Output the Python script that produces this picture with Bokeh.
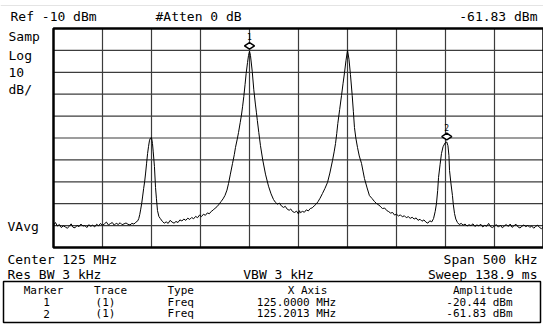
import math
from bokeh.plotting import figure
from bokeh.models import Range1d, Label, ColumnDataSource
from bokeh.core.properties import value
from bokeh.transform import dodge
from bokeh.embed import file_html
from bokeh.resources import INLINE

# ---------------- data ----------------
center_mhz = 125.0
x_start_mhz, x_end_mhz = 124.80, 125.30
ref_dbm = -10
db_per_div = 10

trace_khz = (
    [-200, -198, -196, -194, -192, -190, -188, -186, -184, -182, -180, -178, -176, -174, -172, -170, -168, -166, -164, -162, -160, -158]
    + [-156, -154, -152, -150, -148, -146, -144, -142, -140, -138, -136, -134, -132, -130, -128, -126, -124, -122, -120, -118, -116, -114]
    + [-113, -112, -111, -110, -109, -108, -107, -106, -105, -104, -103, -102, -101, -100, -99, -98.3, -97, -95.9, -95, -93.9, -92.5, -91]
    + [-89, -87, -85, -83, -81, -79, -77, -75, -73, -71, -69, -67, -65, -63, -61, -59, -57, -55, -53, -51, -49, -47, -45, -43, -41, -39, -37, -35, -33, -31, -29, -27, -25, -23]
    + [-21.4, -19.5, -17.3, -15.5, -14.3, -12.5, -11.2, -9.5, -8.2, -7, -5.8, -4.5, -3.4, -2, -1, 0]
    + [1, 2.8, 4.4, 6, 7.1, 8, 9.5, 11.2, 13.5, 16.3, 19.4, 22, 24.5, 26.5, 28.5, 30.5]
    + [32.5, 34.7, 36.5, 38.5, 40.5, 42, 44, 46, 48, 50, 51, 52, 54, 56, 58, 60, 62, 64, 66, 68, 70, 72, 74.5, 77, 79.6, 82]
    + [84.7, 86.5, 87.8, 89, 90.1, 92, 93.9, 95.5, 97, 98.5, 100, 101.5, 103, 104.8, 106, 107.1, 108.5, 110.2, 112, 114.3, 116, 117.3, 120, 122.4]
    + [125, 127.5, 129.6, 132, 134, 135.7, 138, 140, 142, 144, 146, 148, 150, 152, 154, 156, 158, 160, 162, 164, 166, 168, 170, 172, 174, 176, 178]
    + [180, 182, 184, 186, 187.8, 189.5, 190.8, 192, 192.9, 194.5, 195.9, 197.5, 199.5, 201.3, 202.5, 203.5, 204.1, 205.5, 207.1, 208, 209.2, 210.5, 212.2]
    + [214, 216, 218, 220, 222, 224, 226, 228, 230, 232, 234, 236, 238, 240, 242, 244, 246, 248, 250, 252, 254, 256]
    + [258, 260, 262, 264, 266, 268, 270, 272, 274, 276, 278, 280, 282, 284, 286, 288, 290, 292, 294, 296, 298, 300]
)
trace_dbm = (
    [-99.8, -98.6, -100.2, -99.5, -100.9, -100.1, -100.6, -101.2, -100.4, -99.2, -100.8, -101.0, -99.9, -100.5, -99.3, -100.2, -100.0, -100.9, -99.6, -100.3, -99.8, -100.6]
    + [-99.4, -100.1, -99.0, -99.9, -99.2, -98.4, -99.7, -99.1, -98.6, -99.8, -98.9, -99.5, -98.7, -99.6, -99.2, -98.8, -99.4, -99.7, -99.0, -99.3, -98.5, -97.8]
    + [-96.8, -95.0, -92.5, -89.9, -86.5, -83.0, -80.0, -76.0, -71.5, -67.1, -63.8, -61.0, -60.0, -59.8, -62.5, -66.0, -73.0, -82.6, -87.5, -93.1, -95.8, -96.8]
    + [-98.0, -98.9, -98.3, -99.0, -97.6, -98.4, -98.9, -98.1, -98.6, -97.4, -97.9, -97.0, -97.6, -96.6, -97.2, -96.3, -96.9, -95.8, -96.4, -95.2, -95.9, -94.8, -95.3, -94.2, -94.6, -93.5, -92.9, -92.0, -91.3, -90.2, -89.0, -87.8, -86.2, -83.8]
    + [-80.8, -76.5, -71.6, -67.6, -64.3, -60.5, -57.5, -53.0, -49.5, -45.5, -41.0, -35.5, -30.5, -25.5, -22.3, -20.44]
    + [-22.3, -29.6, -38.0, -44.5, -48.5, -52.0, -57.5, -63.5, -70.0, -76.5, -82.0, -85.5, -88.1, -89.4, -90.2, -89.7]
    + [-91.0, -91.7, -91.2, -92.5, -93.0, -92.4, -93.6, -94.0, -93.4, -94.7, -93.2, -94.1, -93.5, -93.9, -92.8, -93.3, -92.2, -91.9, -91.0, -90.2, -89.0, -87.5, -85.3, -83.0, -80.3, -76.0]
    + [-70.3, -66.0, -62.5, -58.0, -53.4, -47.0, -40.6, -35.0, -30.0, -24.5, -20.0, -24.0, -31.0, -40.6, -48.0, -55.2, -60.0, -64.3, -68.2, -71.6, -75.5, -78.5, -82.8, -86.3]
    + [-87.6, -89.0, -89.9, -90.6, -91.5, -92.2, -92.0, -93.1, -93.6, -94.3, -94.0, -95.2, -94.8, -95.6, -95.1, -96.0, -95.5, -96.4, -95.9, -96.7, -96.2, -97.0, -96.5, -97.6, -97.1, -98.0, -97.4]
    + [-98.4, -98.9, -97.8, -98.3, -96.8, -93.5, -89.9, -84.0, -78.0, -72.0, -67.1, -64.0, -62.3, -61.83, -63.5, -68.0, -74.8, -80.5, -86.3, -90.5, -94.5, -97.0, -98.6]
    + [-99.5, -99.0, -99.8, -99.3, -100.2, -99.6, -100.0, -99.2, -100.4, -99.7, -100.1, -99.4, -100.6, -99.9, -100.3, -99.0, -100.5, -100.9, -100.1, -99.6, -100.7, -99.8]
    + [-101.0, -100.2, -99.5, -100.4, -99.3, -100.8, -100.0, -99.4, -100.6, -101.1, -100.3, -99.7, -100.5, -99.9, -100.8, -100.2, -101.2, -100.4, -99.8, -100.9, -101.4, -100.6]
)

marker_ids = ["1", "2"]
marker_traces = ["(1)", "(1)"]
marker_types = ["Freq", "Freq"]
marker_mhz = [125.0000, 125.2013]
marker_dbm = [-20.44, -61.83]

# ---------------- layout constants (page pixels) ----------------
W, H = 543, 335
FR_L, FR_R, FR_T, FR_B = 53, 543, 28, 247     # graticule box
FONT = "DejaVu Sans Mono"
y_bottom = ref_dbm - 10 * db_per_div


def mhz_at(px):
    return x_start_mhz + (px - FR_L) * (x_end_mhz - x_start_mhz) / (FR_R - FR_L)


def dbm_at(py):
    return ref_dbm - (py - FR_T) * (ref_dbm - y_bottom) / (FR_B - FR_T)


# canvas-wide frame in pixel units; the trace uses extra ranges (MHz, dBm)
p = figure(width=W, height=H, title=None,
           x_range=Range1d(0, W), y_range=Range1d(H, 0),
           output_backend="svg", toolbar_location=None,
           min_border=0, min_border_left=0, min_border_right=0,
           min_border_top=0, min_border_bottom=0)
p.extra_x_ranges = {"freq": Range1d(mhz_at(0), mhz_at(W))}
p.extra_y_ranges = {"dbm": Range1d(dbm_at(H), dbm_at(0))}
p.xaxis.visible = False
p.yaxis.visible = False
p.xgrid.visible = False
p.ygrid.visible = False
p.outline_line_color = None
p.background_fill_color = "white"
p.border_fill_color = "white"

R = dict(x_range_name="freq", y_range_name="dbm")

# faint screen edge line at the top
p.segment(x0=[0], y0=[5], x1=[W], y1=[5], line_color="#e4e4e4", line_width=1)

# graticule: 10 x 10 divisions
xt = [x_start_mhz + i * (x_end_mhz - x_start_mhz) / 10 for i in range(1, 10)]
yt = [y_bottom + i * db_per_div for i in range(1, 10)]
GRID = "#3c3c3c"
p.segment(x0=xt, y0=[y_bottom] * len(xt), x1=xt, y1=[ref_dbm] * len(xt),
          line_color=GRID, line_width=1.2, **R)
p.segment(x0=[x_start_mhz] * len(yt), y0=yt, x1=[x_end_mhz] * len(yt), y1=yt,
          line_color=GRID, line_width=1.2, **R)

# trace
trace_mhz = [center_mhz + k / 1000.0 for k in trace_khz]
p.line(trace_mhz, trace_dbm, line_color="black", line_width=1, **R)

# graticule border
p.quad(left=[x_start_mhz], right=[x_end_mhz], bottom=[y_bottom], top=[ref_dbm],
       fill_color=None, line_color="black", line_width=2.5, **R)

# markers
msrc = ColumnDataSource(dict(f=marker_mhz, a=marker_dbm, id=marker_ids))
p.scatter("f", dodge("a", 2.5), source=msrc, marker="diamond", angle=math.pi / 2,
          size=10, fill_color="white", line_color="black", line_width=1.5, **R)
p.text("f", "a", text="id", source=msrc, y_offset=-15, text_align="center",
       text_baseline="alphabetic", text_font=value(FONT), text_font_size="8px",
       text_color="black", **R)


def lab(x, y, text, align="left", size="13px"):
    # small upward correction of Label's alphabetic baseline placement
    dy = 5 if size == "13px" else 4
    p.add_layout(Label(x=x, y=y - dy, text=text, text_align=align,
                       text_baseline="alphabetic", text_font=FONT,
                       text_font_size=size, text_color="black"))


# header / side / footer texts (pixel positions of the baselines)
lab(10, 21, "Ref -10 dBm")
lab(155, 21, "#Atten 0 dB")
lab(537, 21, f"{marker_dbm[1]:.2f} dBm", "right")
lab(8, 41, "Samp")
lab(8, 60, "Log")
lab(8, 77, "10")
lab(8, 94, "dB/")
lab(7, 231, "VAvg")
lab(7, 264, "Center 125 MHz")
lab(537, 264, "Span 500 kHz", "right")
lab(7, 279, "Res BW 3 kHz")
lab(278, 279, "VBW 3 kHz", "center")
lab(537, 279, "Sweep 138.9 ms", "right")

# marker table
p.quad(left=[3], right=[540], top=[281], bottom=[322],
       fill_color=None, line_color="black", line_width=1.5)
TS = "11px"
lab(43, 294, "Marker", "center", TS)
lab(110, 294, "Trace", "center", TS)
lab(167, 294, "Type", "left", TS)
lab(307, 294, "X Axis", "center", TS)
lab(512, 294, "Amplitude", "right", TS)
for i, yb in enumerate([305.7, 317]):
    lab(46, yb, marker_ids[i], "center", TS)
    lab(105, yb, marker_traces[i], "center", TS)
    lab(167, yb, marker_types[i], "left", TS)
    lab(296, yb, f"{marker_mhz[i]:.4f} MHz", "center", TS)
    lab(512, yb, f"{marker_dbm[i]:.2f} dBm", "right", TS)

open("out.html", "w").write(file_html(p, INLINE))
